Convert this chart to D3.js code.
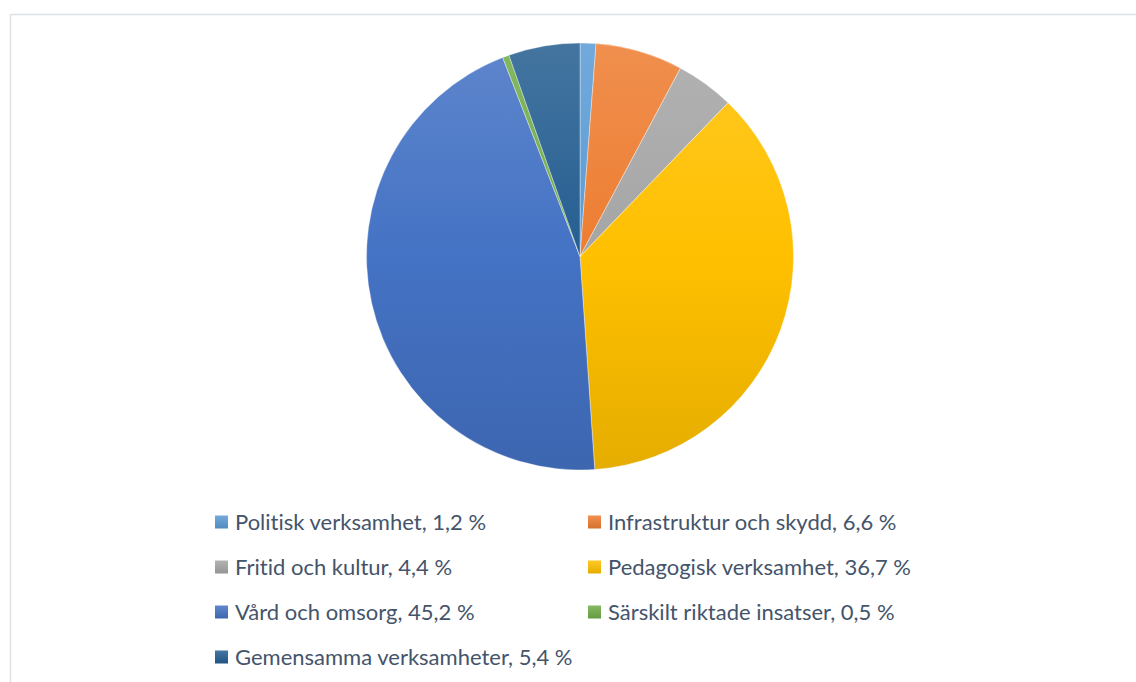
<!DOCTYPE html>
<html>
<head>
<meta charset="utf-8">
<script src="https://cdn.jsdelivr.net/npm/d3@7"></script>
<style>
  html, body { margin: 0; padding: 0; background: #fff; }
  svg { display: block; }
</style>
</head>
<body>
<div id="chart"></div>
<script>
// data (share of total, %)
const categories = [
  "Politisk verksamhet",
  "Infrastruktur och skydd",
  "Fritid och kultur",
  "Pedagogisk verksamhet",
  "Vård och omsorg",
  "Särskilt riktade insatser",
  "Gemensamma verksamheter"
];
const values = [1.2, 6.6, 4.4, 36.7, 45.2, 0.5, 5.4];
const valueLabels = ["1,2 %", "6,6 %", "4,4 %", "36,7 %", "45,2 %", "0,5 %", "5,4 %"];
const colors = ["#5B9BD5", "#ED7D31", "#A5A5A5", "#FFC000", "#4472C4", "#70AD47", "#255E91"];

const width = 1136;
const height = 682;
const cx = 580, cy = 256.5, radius = 213.5;

const svg = d3.select("#chart")
  .append("svg")
    .attr("width", width)
    .attr("height", height);

// chart frame (only left/top edges in view)
svg.append("rect")
  .attr("x", 10.5)
  .attr("y", 14.5)
  .attr("width", width + 20)
  .attr("height", height + 20)
  .attr("fill", "#fff")
  .attr("stroke", "#dde1e6")
  .attr("stroke-width", 1.5);

const defs = svg.append("defs");
colors.forEach((c, i) => {
  const base = d3.color(c);
  const g = defs.append("linearGradient")
    .attr("id", `grad${i}`)
    .attr("gradientUnits", "userSpaceOnUse")
    .attr("x1", 0).attr("y1", -radius)
    .attr("x2", 0).attr("y2", radius);
  g.append("stop").attr("offset", "0%").attr("stop-color", d3.interpolateRgb(base, "#fff")(0.14));
  g.append("stop").attr("offset", "50%").attr("stop-color", base.formatHex());
  g.append("stop").attr("offset", "100%").attr("stop-color", base.darker(0.3).formatHex());
});

const data = categories.map((c, i) => ({ name: c, value: values[i], label: valueLabels[i], idx: i }));

const pie = d3.pie()
  .value(d => d.value)
  .sort(null);

const arc = d3.arc()
  .innerRadius(0)
  .outerRadius(radius);

const gPie = svg.append("g")
  .attr("transform", `translate(${cx}, ${cy})`);

gPie.selectAll("path")
  .data(pie(data))
  .enter()
  .append("path")
    .attr("d", arc)
    .attr("fill", d => `url(#grad${d.data.idx})`)
    .attr("stroke", "#fff")
    .attr("stroke-width", 0.6)
    .attr("stroke-opacity", 0.6);

// legend, two columns
const colX = [215, 588];
const rowY0 = 522, rowDY = 45;
const box = 13;

colors.forEach((c, i) => {
  const base = d3.color(c);
  const g = defs.append("linearGradient")
    .attr("id", `lg${i}`)
    .attr("x1", 0).attr("y1", 0)
    .attr("x2", 0).attr("y2", 1);
  g.append("stop").attr("offset", "0%").attr("stop-color", d3.interpolateRgb(base, "#fff")(0.15));
  g.append("stop").attr("offset", "100%").attr("stop-color", base.darker(0.3).formatHex());
});

const legend = svg.append("g").attr("class", "legend");
const items = legend.selectAll("g")
  .data(data)
  .enter()
  .append("g")
    .attr("transform", (d, i) => `translate(${colX[i % 2]}, ${rowY0 + Math.floor(i / 2) * rowDY})`);

items.append("rect")
  .attr("x", 0)
  .attr("y", -box / 2)
  .attr("width", box)
  .attr("height", box)
  .attr("fill", d => `url(#lg${d.idx})`);

items.append("text")
  .attr("x", 20)
  .attr("y", 0)
  .attr("dy", "0.36em")
  .style("font-family", "Lato, 'Open Sans', sans-serif")
  .style("font-size", "22px")
  .style("font-variant-ligatures", "none")
  .attr("fill", "#44546A")
  .text(d => `${d.name}, ${d.label}`);
</script>
</body>
</html>
